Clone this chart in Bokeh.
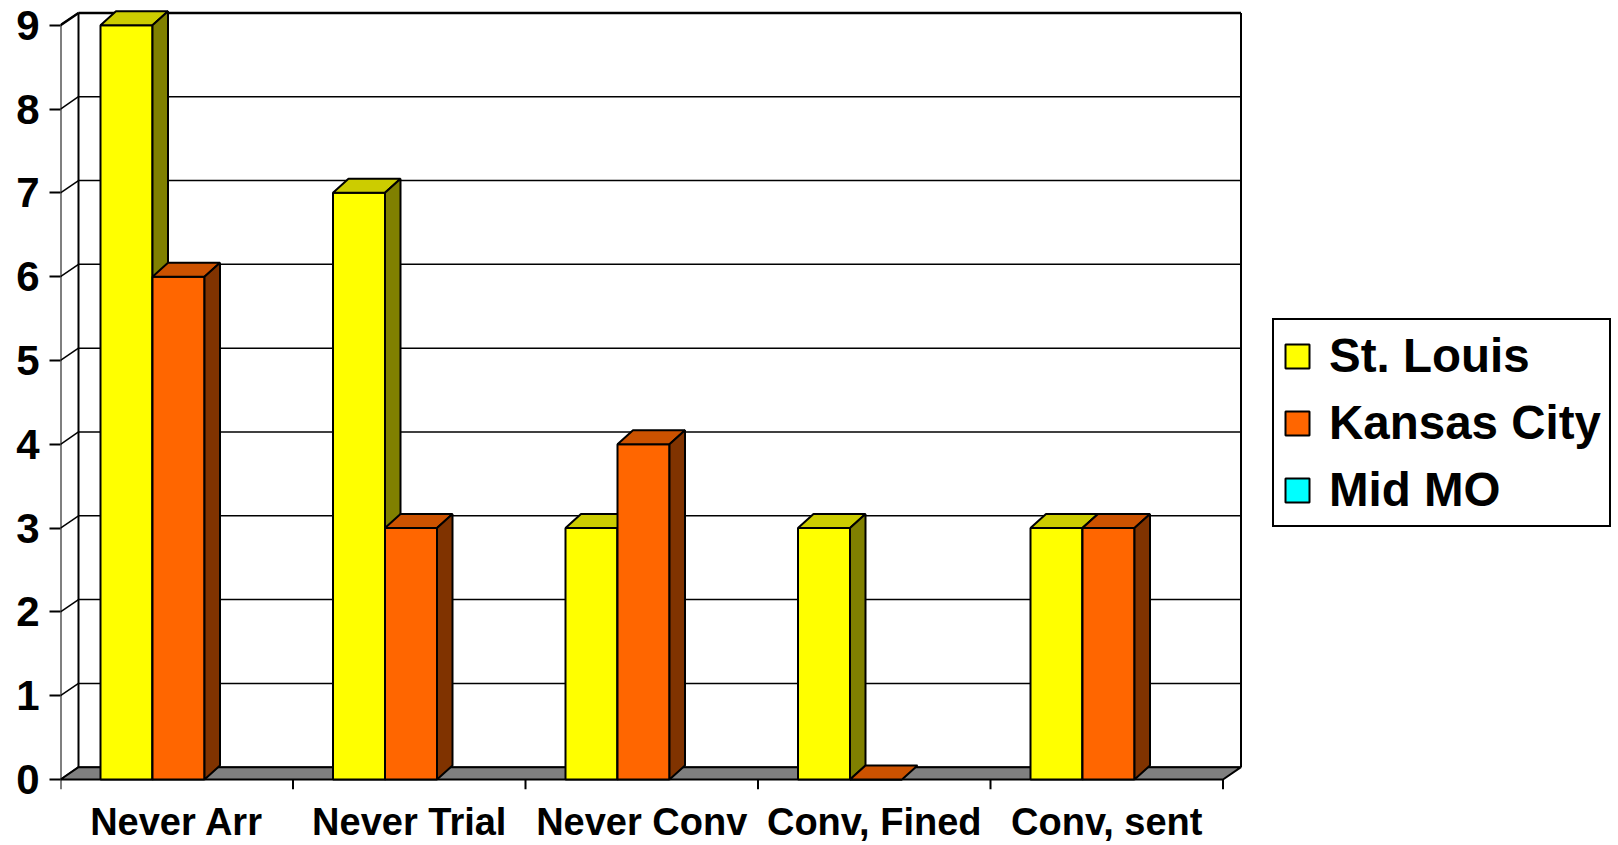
import math
from bokeh.plotting import figure
from bokeh.models import (Range1d, FixedTicker, ColumnDataSource, Legend, LegendItem)
from bokeh.embed import file_html
from bokeh.resources import INLINE

# ---- data ----
categories = ["Never Arr", "Never Trial", "Never Conv", "Conv, Fined", "Conv, sent"]
st_louis = [9, 7, 3, 3, 3]
kansas_city = [6, 3, 4, 0, 3]
mid_mo = [float("nan")] * 5
y_ticks = [0, 1, 2, 3, 4, 5, 6, 7, 8, 9]

series_names = ["St. Louis", "Kansas City", "Mid MO"]
series_vals = [st_louis, kansas_city, mid_mo]
front_colors = ["#FFFF00", "#FF6600", "#00FFFF"]
top_colors = ["#CCCC00", "#CC5200", "#00CCCC"]
side_colors = ["#808000", "#803300", "#008080"]

# ---- layout (pixels) ----
W, H = 1618, 845
LEFT = 60            # frame left = front value axis
PX_CAT = 232.5       # pixels per category
PX_VAL = 83.81       # pixels per value unit
Y0 = 779             # canvas y of value 0
TICK_PX = 10
FRAME_BOTTOM = Y0 + TICK_PX
FONT = "Liberation Sans"

xr = Range1d(0, (W - LEFT) / PX_CAT)
yr = Range1d(-TICK_PX / PX_VAL, Y0 / PX_VAL)

DX, DY = 18 / PX_CAT, 12.3 / PX_VAL      # wall depth
BDX, BDY = 15.5 / PX_CAT, 14 / PX_VAL    # bar depth
BAR_OFF, BAR_W = 40 / PX_CAT, 52 / PX_CAT
TICK = TICK_PX / PX_VAL
n = len(categories)
vmax = max(y_ticks)

p = figure(width=W, height=H, x_range=xr, y_range=yr, output_backend="svg",
           toolbar_location=None, min_border_left=LEFT, min_border_right=0,
           min_border_top=0, min_border_bottom=H - FRAME_BOTTOM)
p.grid.visible = False
p.outline_line_color = None
p.background_fill_color = "white"
p.border_fill_color = "white"

ya = p.yaxis[0]
ya.ticker = FixedTicker(ticks=y_ticks)
ya.axis_line_color = None
ya.minor_tick_line_color = None
ya.major_tick_in = 0
ya.major_tick_out = 11
ya.major_tick_line_width = 2
ya.major_label_standoff = 10
ya.major_label_text_font = FONT
ya.major_label_text_font_style = "bold"
ya.major_label_text_font_size = "42px"
ya.major_label_text_color = "black"

xa = p.xaxis[0]
centers = [i + 0.5 for i in range(n)]
xa.ticker = FixedTicker(ticks=centers)
xa.major_label_overrides = {c: lab for c, lab in zip(centers, categories)}
xa.axis_line_color = None
xa.minor_tick_line_color = None
xa.major_tick_line_color = None
xa.major_tick_in = 0
xa.major_tick_out = 0
xa.major_label_standoff = 11
xa.major_label_text_font = FONT
xa.major_label_text_font_style = "bold"
xa.major_label_text_font_size = "38px"
xa.major_label_text_color = "black"

# ---- walls ----
p.segment(x0=[DX] * len(y_ticks), y0=[t + DY for t in y_ticks],
          x1=[n + DX] * len(y_ticks), y1=[t + DY for t in y_ticks],
          line_color="black", line_width=1.5)
p.segment(x0=[0] * len(y_ticks), y0=y_ticks,
          x1=[DX] * len(y_ticks), y1=[t + DY for t in y_ticks],
          line_color="black", line_width=1.5)
p.segment(x0=[DX, n + DX], y0=[DY, DY], x1=[DX, n + DX], y1=[vmax + DY, vmax + DY],
          line_color="black", line_width=2)
p.segment(x0=[0, DX], y0=[vmax, vmax + DY], x1=[DX, n + DX], y1=[vmax + DY, vmax + DY],
          line_color="black", line_width=2.5)
p.segment(x0=[0], y0=[0], x1=[0], y1=[vmax], line_color="black", line_width=2)
p.patch(x=[0, n, n + DX, DX], y=[0, 0, DY, DY], fill_color="#808080",
        line_color="black", line_width=2)
p.segment(x0=list(range(n + 1)), y0=[0] * (n + 1), x1=list(range(n + 1)),
          y1=[-TICK] * (n + 1), line_color="black", line_width=2)

# ---- bars ----
renderers = []
for j, (name, vals) in enumerate(zip(series_names, series_vals)):
    lefts = [i + BAR_OFF + j * BAR_W for i in range(n)]
    rights = [l + BAR_W for l in lefts]
    src = ColumnDataSource(dict(left=lefts, right=rights, top=vals,
                                bottom=[0] * n))
    txs, tys, sxs, sys_ = [], [], [], []
    for l, r, v in zip(lefts, rights, vals):
        if v is None or (isinstance(v, float) and math.isnan(v)):
            continue
        txs.append([l, r, r + BDX, l + BDX])
        tys.append([v, v, v + BDY, v + BDY])
        if v > 0:
            sxs.append([r, r + BDX, r + BDX, r])
            sys_.append([0, BDY, v + BDY, v])
    rr = p.quad(left="left", right="right", top="top", bottom="bottom", source=src,
                fill_color=front_colors[j], line_color="black", line_width=2)
    if txs:
        p.patches(xs=txs, ys=tys, fill_color=top_colors[j], line_color="black",
                  line_width=2)
    if sxs:
        p.patches(xs=sxs, ys=sys_, fill_color=side_colors[j], line_color="black",
                  line_width=2)
    renderers.append(rr)

# ---- legend ----
LEG_LEFT, LEG_BOTTOM = 1272, 527
legend = Legend(items=[LegendItem(label=nm, renderers=[r])
                       for nm, r in zip(series_names, renderers)],
                location=(LEG_LEFT - LEFT, FRAME_BOTTOM - LEG_BOTTOM))
legend.label_text_font = FONT
legend.label_text_font_style = "bold"
legend.label_text_font_size = "47.5px"
legend.label_text_color = "black"
legend.glyph_width = 30
legend.glyph_height = 30
legend.label_standoff = 17
legend.padding = 8
legend.spacing = 12
legend.margin = 0
legend.border_line_color = "black"
legend.border_line_alpha = 1.0
legend.border_line_width = 2
legend.background_fill_color = "white"
legend.background_fill_alpha = 1.0
p.add_layout(legend)

open("out.html", "w").write(file_html(p, INLINE))
